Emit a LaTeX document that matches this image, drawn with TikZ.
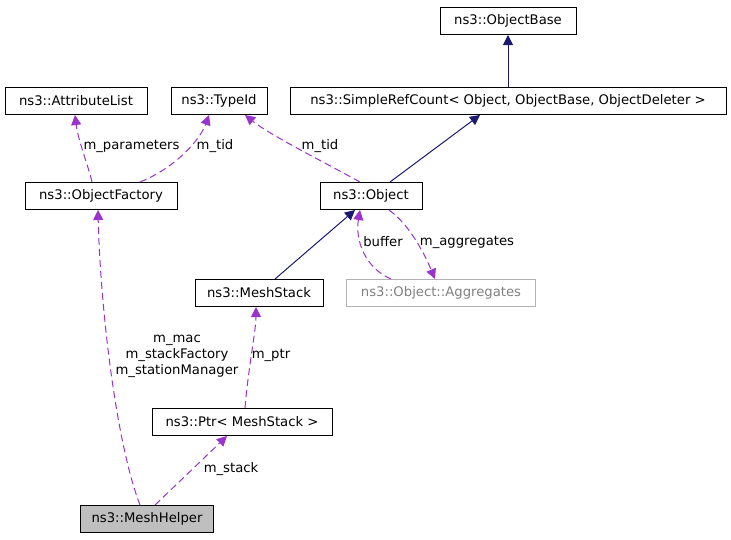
\documentclass[tikz,border=0pt]{standalone}
\usepackage{fontspec}
\setmainfont{DejaVu Sans}
\usetikzlibrary{arrows.meta}
\definecolor{pur}{HTML}{9A32CD}
\definecolor{nav}{HTML}{191970}
\begin{document}
\begin{tikzpicture}[x=1pt,y=-1pt,font=\fontsize{13.2}{16}\selectfont,line width=1pt,
 box/.style={draw,rectangle,inner sep=0,minimum height=27pt,anchor=center},
 inh/.style={nav,-{Triangle[length=10pt,width=10pt]}},
 use/.style={pur,dash pattern=on 7pt off 4pt,-{Triangle[length=10pt,width=10pt]}},
 lab/.style={inner sep=1pt,text=black}]
\useasboundingbox (0,0) rectangle (731,539);
\node[box,minimum width=136pt] (ob) at (508,21) {ns3::ObjectBase};
\node[box,minimum width=142pt] (al) at (76,101) {ns3::AttributeList};
\node[box,minimum width=96pt] (ti) at (219,101) {ns3::TypeId};
\node[box,minimum width=436pt] (src) at (508,101) {ns3::SimpleRefCount< Object, ObjectBase, ObjectDeleter >};
\node[box,minimum width=152pt] (of) at (101,196) {ns3::ObjectFactory};
\node[box,minimum width=102pt] (o) at (371,196) {ns3::Object};
\node[box,minimum width=128pt] (ms) at (259,293) {ns3::MeshStack};
\node[box,minimum width=189pt,draw=gray!60,text=gray] (ag) at (441,293) {ns3::Object::Aggregates};
\node[box,minimum width=180pt] (p) at (242,422) {ns3::Ptr< MeshStack >};
\node[box,minimum width=133pt,fill=gray!50] (mh) at (147,519) {ns3::MeshHelper};

\draw[inh] (src.north) -- (ob.south);
\draw[inh] ([xshift=19pt]o.north) -- ([xshift=-28pt]src.south);
\draw[inh] ([xshift=16pt]ms.north) -- ([xshift=-16pt]o.south);

\draw[use] ([xshift=-9pt]of.north) .. controls (88,165) and (78,140) .. ([xshift=-1pt]al.south);
\node[lab,anchor=west] at (82,146) {m\_parameters};
\draw[use] ([xshift=39pt]of.north) .. controls (175,168) and (200,140) .. ([xshift=-10pt]ti.south);
\node[lab] at (215,146) {m\_tid};
\draw[use] ([xshift=-11pt]o.north) .. controls (320,160) and (270,135) .. ([xshift=26pt]ti.south);
\node[lab] at (320,146) {m\_tid};
\draw[use] ([xshift=18pt]o.south) .. controls (410,225) and (425,255) .. ([xshift=-6pt]ag.north);
\node[lab] at (467,242) {m\_aggregates};
\draw[use] ([xshift=-50pt]ag.north) .. controls (365,268) and (355,240) .. ([xshift=-11pt]o.south);
\node[lab] at (383,242) {buffer};
\draw[use] ([xshift=-7pt]mh.north) .. controls (115,440) and (100,300) .. ([xshift=-3pt]of.south);
\node[lab,align=center] at (177,356) {m\_mac\\m\_stackFactory\\m\_stationManager};
\draw[use] ([xshift=3pt]p.north) .. controls (248,370) and (256,330) .. ([xshift=-3pt]ms.south);
\node[lab] at (271,355) {m\_ptr};
\draw[use] ([xshift=8pt]mh.north) -- ([xshift=-15pt]p.south);
\node[lab] at (231,469) {m\_stack};
\end{tikzpicture}
\end{document}
